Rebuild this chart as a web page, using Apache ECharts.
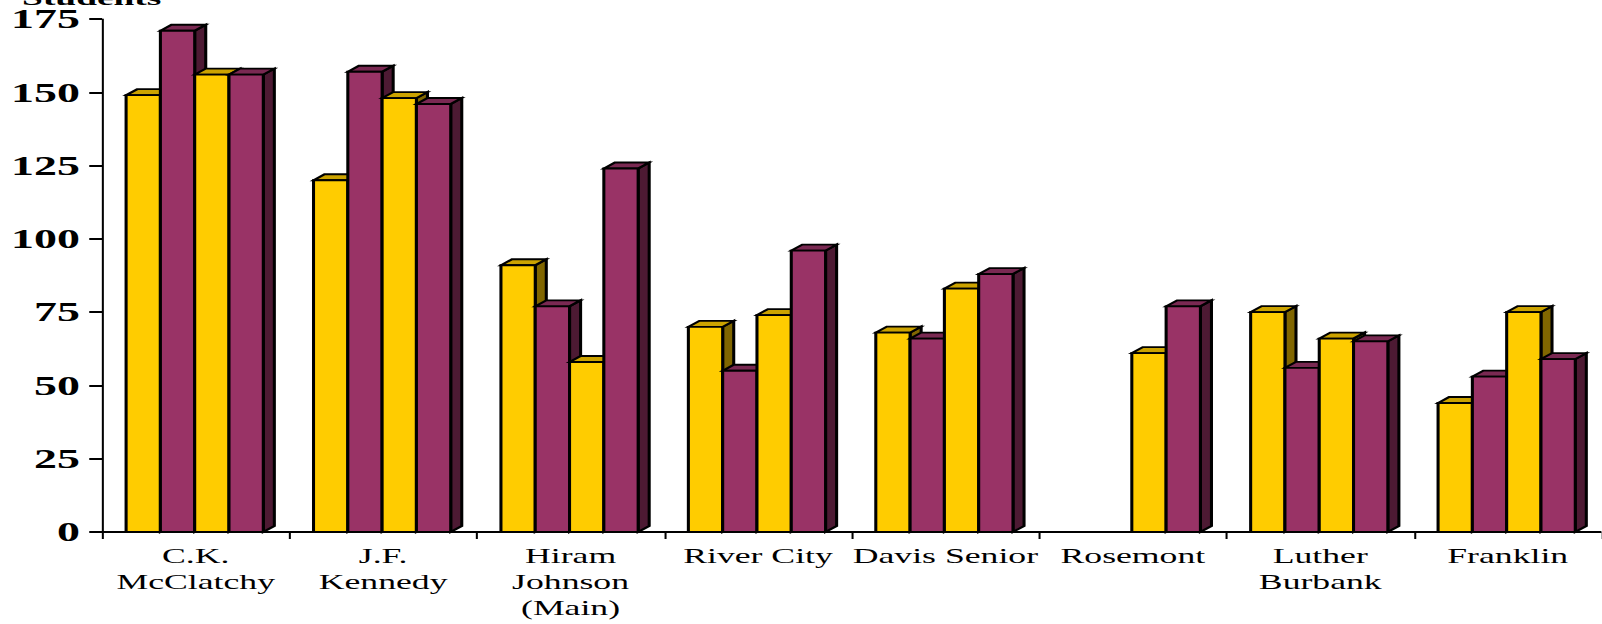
<!DOCTYPE html>
<html>
<head>
<meta charset="utf-8">
<script src="https://cdn.jsdelivr.net/npm/echarts@6/dist/echarts.min.js"></script>
<style>
html, body { margin: 0; padding: 0; background: #ffffff; overflow: hidden; }
#chart { position: absolute; left: 0; top: 0; width: 942.35px; height: 624px; transform: scaleX(1.7); transform-origin: 0 0; }
</style>
</head>
<body>
<div id="chart"></div>
<script>
// ---- data ----
const categories = ['C.K.\nMcClatchy', 'J.F.\nKennedy', 'Hiram\nJohnson\n(Main)', 'River City', 'Davis Senior', 'Rosemont', 'Luther\nBurbank', 'Franklin'];
const series1 = [149, 120, 91, 70, 68, null, 75, 44];
const series2 = [171, 157, 77, 55, 66, null, 56, 53];
const series3 = [156, 148, 58, 74, 83, 61, 66, 75];
const series4 = [156, 146, 124, 96, 88, 77, 65, 59];
const seriesNames = ['Series 1', 'Series 2', 'Series 3', 'Series 4'];
const yTicks = [0, 25, 50, 75, 100, 125, 150, 175];
const yTitle = 'Students';

const allSeries = [series1, series2, series3, series4];
const palette = [
  { front: '#FFCC00', top: '#CCA300', side: '#806600' },
  { front: '#993366', top: '#7A2952', side: '#4D1A33' },
  { front: '#FFCC00', top: '#CCA300', side: '#806600' },
  { front: '#993366', top: '#7A2952', side: '#4D1A33' }
];
const FONT = "'Liberation Serif', 'Times New Roman', serif";
const DX = 6.5, DY = 6, LW = 1.8;

function makeRender(idx) {
  return function (params, api) {
    const ci = api.value(0), v = api.value(1);
    if (isNaN(v)) return null;
    const base = api.coord([ci, 0]);
    const top = api.coord([ci, v]);
    const band = api.size([1, 0])[0];
    const bw = band * 0.183;
    const x0 = base[0] - 2 * bw + idx * bw - 0.6;
    const x1 = x0 + bw;
    const yb = base[1], yt = top[1];
    const c = palette[idx];
    const st = { stroke: '#000', lineWidth: LW, lineJoin: 'miter' };
    return {
      type: 'group',
      children: [
        { type: 'polygon', shape: { points: [[x1, yt], [x1 + DX, yt - DY], [x1 + DX, yb - DY], [x1, yb]] },
          style: Object.assign({ fill: c.side }, st) },
        { type: 'polygon', shape: { points: [[x0, yt], [x1, yt], [x1 + DX, yt - DY], [x0 + DX, yt - DY]] },
          style: Object.assign({ fill: c.top }, st) },
        { type: 'rect', shape: { x: x0, y: yt, width: bw, height: yb - yt },
          style: Object.assign({ fill: c.front }, st) }
      ]
    };
  };
}

const chart = echarts.init(document.getElementById('chart'), null, { renderer: 'svg' });
chart.setOption({
  animation: false,
  backgroundColor: '#ffffff',
  title: {
    text: yTitle, left: 8, top: -18,
    textStyle: { fontFamily: FONT, fontSize: 22, fontWeight: 'bold', color: '#000' }
  },
  grid: { left: 60, right: 0, top: 19, bottom: 92, containLabel: false },
  xAxis: {
    type: 'category',
    data: categories,
    boundaryGap: true,
    axisLine: { lineStyle: { color: '#000', width: 2 } },
    axisTick: { show: true, length: 7, inside: false, alignWithLabel: false, interval: 0, lineStyle: { color: '#000', width: 1.2 } },
    axisLabel: { interval: 0, margin: 11, fontFamily: FONT, fontSize: 21, lineHeight: 26, color: '#000' },
    splitLine: { show: false }
  },
  yAxis: {
    type: 'value',
    min: yTicks[0], max: yTicks[yTicks.length - 1], interval: 25,
    axisLine: { show: true, lineStyle: { color: '#000', width: 1.2 } },
    axisTick: { show: true, length: 7.5, lineStyle: { color: '#000', width: 2 } },
    axisLabel: { margin: 13, fontFamily: FONT, fontSize: 27, fontWeight: 'bold', color: '#000' },
    splitLine: { show: false }
  },
  series: allSeries.map(function (vals, idx) {
    const data = [];
    vals.forEach(function (v, i) { if (v !== null) data.push([i, v]); });
    return {
      type: 'custom',
      name: seriesNames[idx],
      renderItem: makeRender(idx),
      encode: { x: 0, y: 1 },
      data: data,
      clip: false,
      z: 2 + idx
    };
  })
});
</script>
</body>
</html>
